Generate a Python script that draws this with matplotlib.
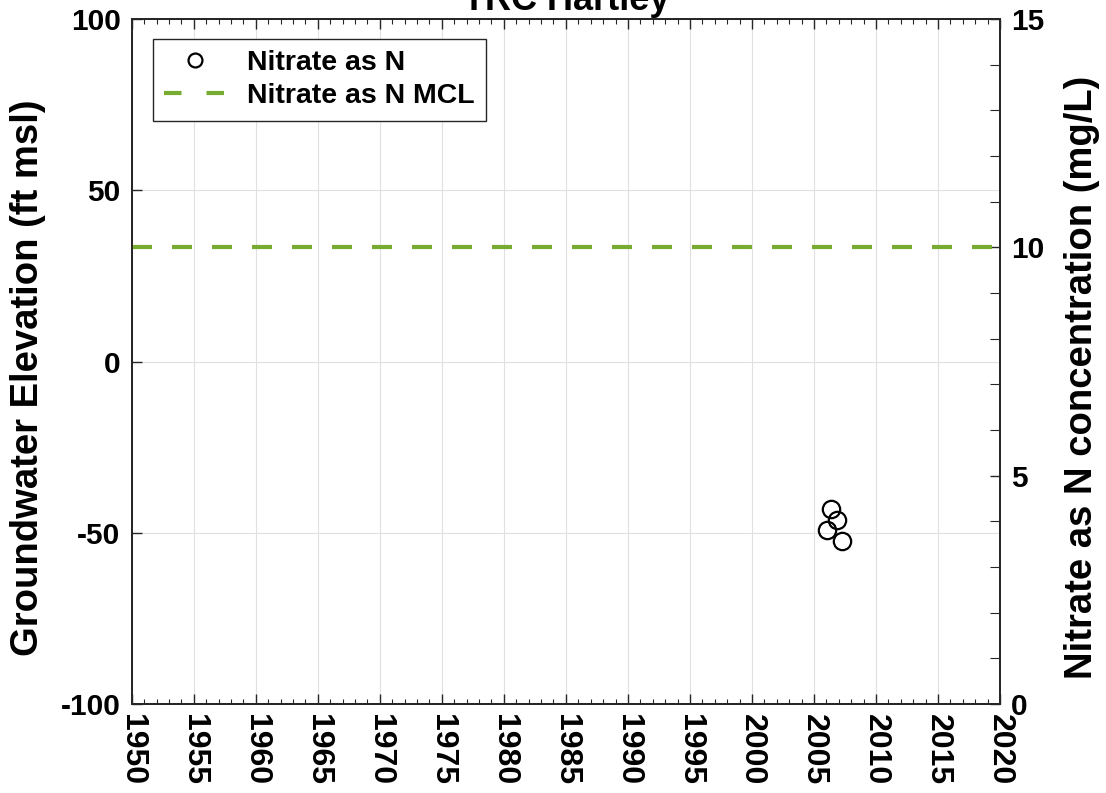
import matplotlib
matplotlib.use("Agg")
import matplotlib.pyplot as plt
from matplotlib.lines import Line2D
from matplotlib.ticker import MultipleLocator

plt.rcParams['font.family'] = ['Liberation Sans', 'DejaVu Sans']
plt.rcParams['font.weight'] = 'bold'

# Nitrate sample results (decimal year, mg/L)
sample_years = [2006.41, 2006.87, 2006.06, 2007.23]
nitrate_mgL = [4.26, 4.04, 3.80, 3.57]
mcl_mgL = 10.0

title = "TRC Hartley"
left_label = "Groundwater Elevation (ft msl)"
right_label = "Nitrate as N concentration (mg/L)"
x_ticks = list(range(1950, 2021, 5))
left_ticks = [-100, -50, 0, 50, 100]
right_ticks = [0, 5, 10, 15]

green = '#77AC30'
spine_col = '#262626'
dash = (0, (4.8, 4.8))

fig = plt.figure(figsize=(11.06, 7.93), dpi=100)
ax = fig.add_axes([0.1191, 0.1122, 0.7851, 0.8638])
ax2 = ax.twinx()

ax.set_xlim(1950, 2020)
ax.set_ylim(-100, 100)
ax2.set_ylim(0, 15)

ax.set_xticks(x_ticks)
ax.set_xticklabels([str(t) for t in x_ticks], rotation=-90, fontsize=23, fontweight='bold')
ax.xaxis.set_minor_locator(MultipleLocator(1))
ax.set_yticks(left_ticks)
ax.set_yticklabels([str(t) for t in left_ticks], fontsize=21.5, fontweight='bold')
ax2.set_yticks(right_ticks)
ax2.set_yticklabels([str(t) for t in right_ticks], fontsize=21.5, fontweight='bold')
ax2.yaxis.set_minor_locator(MultipleLocator(1))

ax.tick_params(axis='x', which='both', direction='in', top=True, bottom=True,
               colors=spine_col, labelcolor='black', pad=7)
ax.tick_params(axis='x', which='major', length=7, width=1)
ax.tick_params(axis='x', which='minor', length=3.5, width=0.8)
ax.tick_params(axis='y', which='major', direction='in', length=7, width=1,
               left=True, right=False, colors=spine_col, labelcolor='black', pad=8)
ax2.tick_params(axis='y', which='major', direction='in', length=7, width=1,
                colors=spine_col, labelcolor='black', pad=8)
ax2.tick_params(axis='y', which='minor', direction='in', length=7, width=0.8,
                colors=spine_col)

ax.grid(True, which='major', color='#e0e0e0', linewidth=0.8)
ax.set_axisbelow(True)

for a in (ax, ax2):
    for s in a.spines.values():
        s.set_color(spine_col)
        s.set_linewidth(1.3)

ax.set_ylabel(left_label, fontsize=27.5, fontweight='bold')
ax2.set_ylabel(right_label, fontsize=27.5, fontweight='bold')
ax.yaxis.set_label_coords(-0.099, 0.477)
ax2.yaxis.set_label_coords(1.0737, 0.477)

ax2.axhline(mcl_mgL, color=green, linewidth=3.0, linestyle=dash)
ax2.plot(sample_years, nitrate_mgL, linestyle='none', marker='o', markersize=12.5,
         markerfacecolor='none', markeredgecolor='black', markeredgewidth=1.6)

fig.text(0.5 * (0.1191 + 0.9042), 1 - 9.5 / 793, title, ha='center', va='baseline',
         fontsize=26, fontweight='bold')

handles = [
    Line2D([], [], linestyle='none', marker='o', markersize=10,
           markerfacecolor='none', markeredgecolor='black', markeredgewidth=1.6),
    Line2D([], [], color=green, linewidth=3.0, linestyle=(0, (4.2, 6.0))),
]
leg = ax2.legend(handles, ["Nitrate as N", "Nitrate as N MCL"], loc='upper left',
                 bbox_to_anchor=(0.024, 0.971), fontsize=20.5, frameon=True,
                 fancybox=False, framealpha=1, edgecolor=spine_col,
                 handlelength=2.2, borderpad=0.4, labelspacing=0.25,
                 handletextpad=0.7, borderaxespad=0)
leg.get_frame().set_linewidth(1.0)
for t in leg.get_texts():
    t.set_fontweight('bold')

fig.savefig("out.png", dpi=100)
